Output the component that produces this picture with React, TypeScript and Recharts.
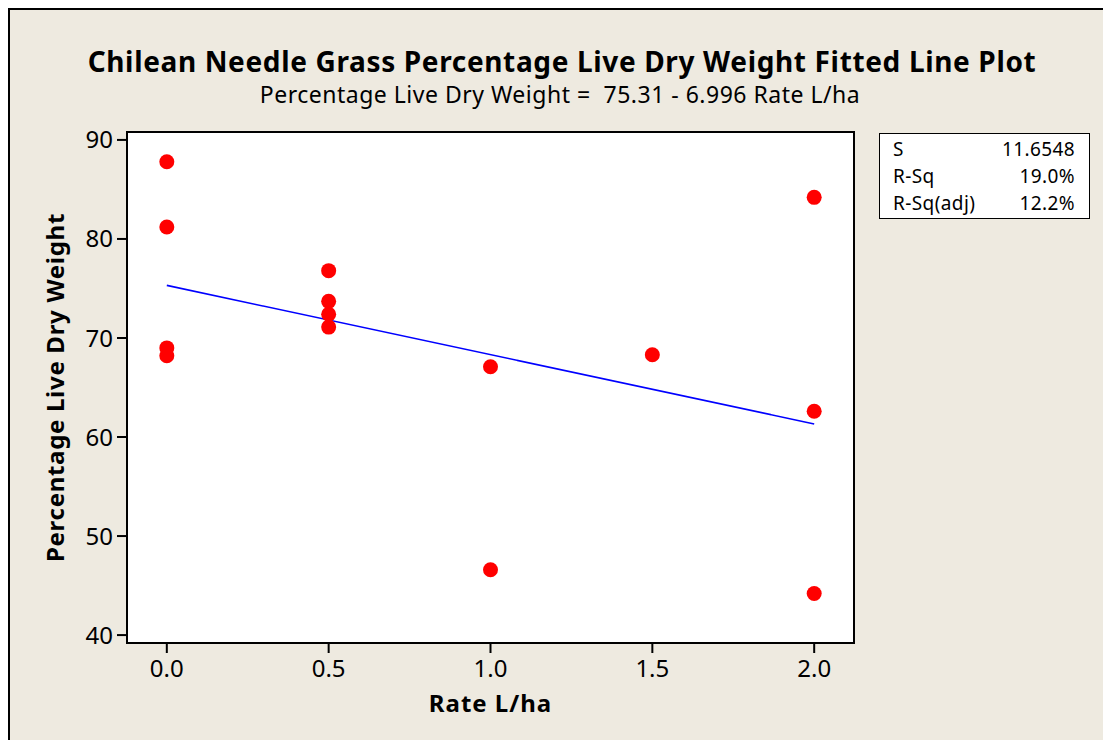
import {
  Label,
  ReferenceArea,
  Scatter,
  ScatterChart,
  XAxis,
  YAxis,
} from 'recharts';

const rate = [0, 0, 0, 0, 0.5, 0.5, 0.5, 0.5, 1, 1, 1.5, 2, 2, 2];
const liveDryWeight = [
  87.8, 81.2, 69.0, 68.2, 76.8, 73.7, 72.4, 71.1, 67.1, 46.6, 68.3, 84.2, 62.6, 44.2,
];

// fitted line: 75.31 - 6.996 * rate, evaluated at its ends
const fitRate = [0, 2];
const fitWeight = [75.31, 61.32];

const xTicks = [0, 0.5, 1, 1.5, 2];
const yTicks = [40, 50, 60, 70, 80, 90];
const xDomain: [number, number] = [-0.123, 2.123];
const yDomain: [number, number] = [39.2, 90.8];

const statLabels = ['S', 'R-Sq', 'R-Sq(adj)'];
const statValues = ['11.6548', '19.0%', '12.2%'];

const points = rate.map((x, i) => ({ x, y: liveDryWeight[i] }));
const fitLine = fitRate.map((x, i) => ({ x, y: fitWeight[i] }));

const FONT = '"Noto Sans", "DejaVu Sans", sans-serif';
const BG = '#eeeae0';

const Dot = (props: any) => (
  <circle cx={props.cx} cy={props.cy} r={7.5} fill="#ff0000" />
);

export default function App() {
  return (
    <div
      style={{
        position: 'fixed',
        left: 8,
        top: 8,
        width: 1095,
        height: 732,
        boxSizing: 'border-box',
        borderTop: '2px solid #000',
        borderLeft: '2px solid #000',
        background: BG,
        fontFamily: FONT,
      }}
    >
      <ScatterChart
        width={1093}
        height={730}
        margin={{ top: 122, right: 249, bottom: 57, left: 57 }}
      >
        <XAxis
          type="number"
          dataKey="x"
          domain={xDomain}
          ticks={xTicks}
          tickFormatter={(v: number) => v.toFixed(1)}
          allowDataOverflow
          axisLine={false}
          tickLine={{ stroke: '#000', strokeWidth: 2 }}
          tickSize={10}
          tickMargin={7}
          height={40}
          tick={{ fill: '#000', fontSize: 24, fontFamily: FONT }}
        >
          <Label
            value="Rate L/ha"
            position="bottom"
            offset={12}
            style={{
              fill: '#000',
              fontSize: 24,
              fontWeight: 700,
              fontFamily: FONT,
              letterSpacing: 1,
            }}
          />
        </XAxis>
        <YAxis
          type="number"
          dataKey="y"
          domain={yDomain}
          ticks={yTicks}
          allowDataOverflow
          axisLine={false}
          tickLine={{ stroke: '#000', strokeWidth: 2 }}
          tickSize={10}
          tickMargin={4}
          width={60}
          tick={{ fill: '#000', fontSize: 24, fontFamily: FONT }}
        >
          <Label
            value="Percentage Live Dry Weight"
            angle={-90}
            position="left"
            offset={12}
            style={{
              fill: '#000',
              fontSize: 24,
              fontWeight: 700,
              fontFamily: FONT,
              textAnchor: 'middle',
              letterSpacing: 0.7,
            }}
          />
        </YAxis>
        <ReferenceArea
          x1={xDomain[0]}
          x2={xDomain[1]}
          y1={yDomain[0]}
          y2={yDomain[1]}
          fill="#ffffff"
          fillOpacity={1}
          stroke="#000"
          strokeWidth={2}
          ifOverflow="visible"
        />
        <Scatter
          data={fitLine}
          line={{ stroke: '#0000ff', strokeWidth: 1.6 }}
          shape={() => <g />}
          isAnimationActive={false}
        />
        <Scatter data={points} shape={Dot} isAnimationActive={false} />
      </ScatterChart>

      <svg
        width={1093}
        height={130}
        style={{ position: 'absolute', left: 0, top: 0, pointerEvents: 'none' }}
      >
        <text
          x={552}
          y={62}
          textAnchor="middle"
          fontFamily={FONT}
          fontSize={28}
          fontWeight={700}
          letterSpacing={0.65}
          fill="#000"
        >
          Chilean Needle Grass Percentage Live Dry Weight Fitted Line Plot
        </text>
        <text
          x={550}
          y={93}
          textAnchor="middle"
          fontFamily={FONT}
          fontSize={23}
          letterSpacing={0.5}
          fill="#000"
          style={{ whiteSpace: 'pre' }}
        >
          {'Percentage Live Dry Weight =  75.31 - 6.996 Rate L/ha'}
        </text>
      </svg>

      <div
        style={{
          position: 'absolute',
          left: 869,
          top: 123,
          width: 211,
          height: 86,
          boxSizing: 'border-box',
          border: '1.5px solid #000',
          background: '#fff',
          padding: '2px 14px 0 13px',
          fontSize: 19,
          letterSpacing: 0.4,
          lineHeight: '27px',
          color: '#000',
        }}
      >
        {statLabels.map((label, i) => (
          <div key={label} style={{ display: 'flex', justifyContent: 'space-between' }}>
            <span>{label}</span>
            <span>{statValues[i]}</span>
          </div>
        ))}
      </div>
    </div>
  );
}
